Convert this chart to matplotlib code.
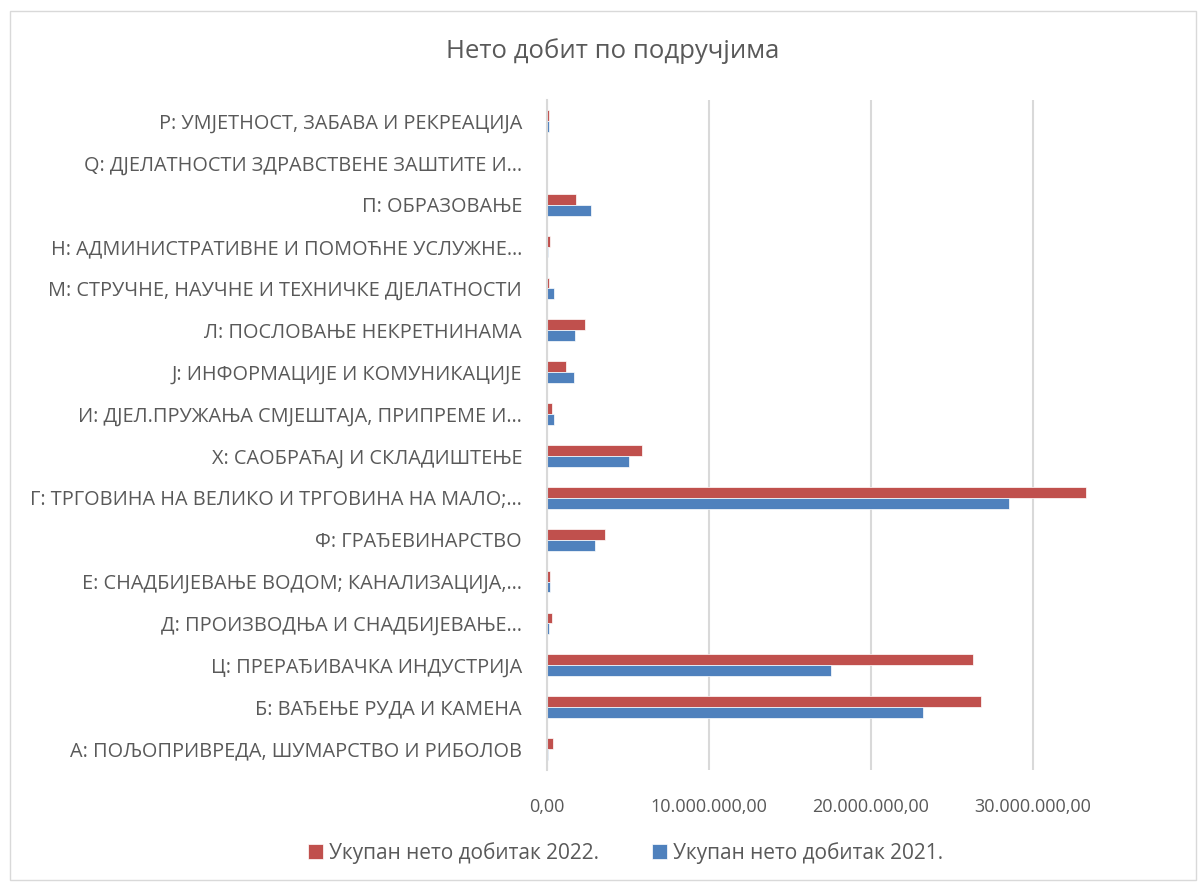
import matplotlib.pyplot as plt
from matplotlib.patches import Rectangle
from matplotlib.ticker import FuncFormatter
import numpy as np

plt.rcParams['font.family'] = ['Open Sans', 'DejaVu Sans']

categories = [
    'А: ПОЉОПРИВРЕДА, ШУМАРСТВО И РИБОЛОВ',
    'Б: ВАЂЕЊЕ РУДА И КАМЕНА',
    'Ц: ПРЕРАЂИВАЧКА ИНДУСТРИЈА',
    'Д: ПРОИЗВОДЊА И СНАДБИЈЕВАЊЕ…',
    'Е: СНАДБИЈЕВАЊЕ ВОДОМ; КАНАЛИЗАЦИЈА,…',
    'Ф: ГРАЂЕВИНАРСТВО',
    'Г: ТРГОВИНА НА ВЕЛИКО И ТРГОВИНА НА МАЛО;…',
    'Х: САОБРАЋАЈ И СКЛАДИШТЕЊЕ',
    'И: ДЈЕЛ.ПРУЖАЊА СМЈЕШТАЈА, ПРИПРЕМЕ И…',
    'J: ИНФОРМАЦИЈЕ И КОМУНИКАЦИЈЕ',
    'Л: ПОСЛОВАЊЕ НЕКРЕТНИНАМА',
    'М: СТРУЧНЕ, НАУЧНЕ И ТЕХНИЧКЕ ДЈЕЛАТНОСТИ',
    'Н: АДМИНИСТРАТИВНЕ И ПОМОЋНЕ УСЛУЖНЕ…',
    'П: ОБРАЗОВАЊЕ',
    'Q: ДЈЕЛАТНОСТИ ЗДРАВСТВЕНЕ ЗАШТИТЕ И…',
    'Р: УМЈЕТНОСТ, ЗАБАВА И РЕКРЕАЦИЈА',
]

# values in KM
profit_2022 = [380000, 26780000, 26310000, 310000, 210000, 3580000, 33250000, 5860000,
               310000, 1160000, 2350000, 120000, 160000, 1780000, 0, 120000]
profit_2021 = [90000, 23220000, 17530000, 140000, 160000, 2990000, 28490000, 5040000,
               430000, 1690000, 1710000, 410000, 40000, 2690000, 0, 120000]

red = '#C0504D'
blue = '#4F81BD'
txt = '#595959'
grid = '#D9D9D9'

fig = plt.figure(figsize=(12.03, 8.84), dpi=100)
fig.patches.append(Rectangle((0.008, 0.005), 0.986, 0.982, transform=fig.transFigure,
                             fill=False, edgecolor=grid, linewidth=1))
ax = fig.add_axes([0.4547, 0.1290, 0.4713, 0.7579])

y = np.arange(len(categories))
h = 0.26
ax.barh(y + h / 2, profit_2022, h, color=red, edgecolor='white', linewidth=0.5,
        label='Укупан нето добитак 2022.')
ax.barh(y - h / 2, profit_2021, h, color=blue, edgecolor='white', linewidth=0.5,
        label='Укупан нето добитак 2021.')

ax.set_xlim(0, 35000000)
ax.set_ylim(-0.5, len(categories) - 0.5)
ax.set_xticks([0, 10000000, 20000000, 30000000])
ax.xaxis.set_major_formatter(FuncFormatter(
    lambda v, p: f'{v:,.2f}'.replace(',', ' ').replace('.', ',').replace(' ', '.')))
ax.set_yticks(y)
ax.set_yticklabels(categories)
ax.tick_params(axis='both', length=0, colors=txt)
ax.tick_params(axis='y', pad=18, labelsize=14.3)
ax.tick_params(axis='x', pad=20, labelsize=13)

ax.grid(axis='x', color=grid, linewidth=1.5)
ax.set_axisbelow(True)
for s in ['top', 'right', 'bottom']:
    ax.spines[s].set_visible(False)
ax.spines['left'].set_color(grid)
ax.spines['left'].set_linewidth(1.5)

fig.text(0.509, 0.942, 'Нето добит по подручјима', ha='center', va='center',
         fontsize=18.5, color=txt)

handles, labels = ax.get_legend_handles_labels()
fig.legend(handles, labels, loc='center', bbox_to_anchor=(0.52, 0.035), ncol=2,
           frameon=False, fontsize=15, labelcolor=txt, handlelength=0.75,
           handleheight=0.75, handletextpad=0.3, columnspacing=2.5)

fig.savefig('out.png', dpi=100)
